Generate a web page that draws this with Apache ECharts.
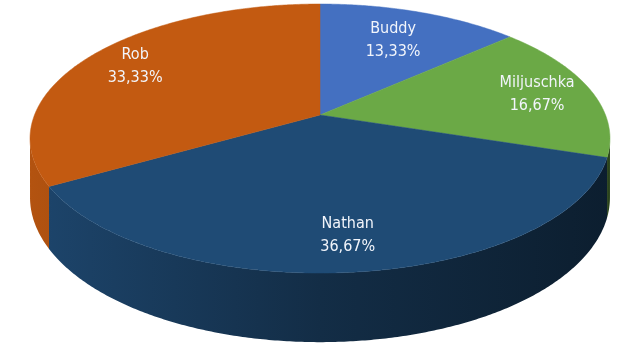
<!DOCTYPE html>
<html>
<head>
<meta charset="utf-8">
<script src="https://cdn.jsdelivr.net/npm/echarts@6/dist/echarts.min.js"></script>
<style>
  html, body { margin: 0; padding: 0; background: #fff; }
  #main { width: 640px; height: 360px; }
</style>
</head>
<body>
<div id="main"></div>
<script>
// data
const names = ['Buddy', 'Miljuschka', 'Nathan', 'Rob'];
const values = [13.33, 16.67, 36.67, 33.33];
const palette = ['#4470c1', '#6ba946', '#1f4b75', '#c35a11'];

// fake 3d view (tilted disc with a bit of perspective)
const cx = 320, cy = 115, rx = 285.5, ry = 130.4, persp = 0.175, depth = 57;
const labelR = 0.8, labelMinY = 40;

const total = values.reduce((a, b) => a + b, 0);
const starts = [];
values.reduce((acc, v) => { starts.push(360 * acc / total); return acc + v; }, 0);

function proj(deg, r, drop) {
  const t = deg * Math.PI / 180;
  const u = r * Math.sin(t), v = r * Math.cos(t);
  const s = 1 / (1 + persp * v);
  return [cx + rx * u * s, cy - ry * v * s + (drop || 0) * s];
}

function shade(hex, f) {
  const c = echarts.color.parse(hex);
  return 'rgb(' + [0, 1, 2].map(k => Math.round(c[k] * f)).join(',') + ')';
}

// visible part of the outer wall
const visL = Math.acos(-persp) * 180 / Math.PI;
const visR = 360 - visL;

function arcPts(a0, a1, r, drop) {
  const pts = [];
  for (let a = a0; a < a1; a += 0.5) pts.push(proj(a, r, drop));
  pts.push(proj(a1, r, drop));
  return pts;
}

// pull label inwards so it doesn't hit the back rim
function labelPos(mid) {
  let r = labelR, p = proj(mid, r);
  while (p[1] < labelMinY && r > 0.2) { r -= 0.01; p = proj(mid, r); }
  return p;
}

const myChart = echarts.init(document.getElementById('main'));
const seriesData = values.map((v, i) => ({ name: names[i], value: [i, v] }));

myChart.setOption({
  animation: false,
  series: [
    { // side walls
      type: 'custom',
      coordinateSystem: 'none',
      silent: true,
      z: 1,
      data: seriesData,
      renderItem: function (params, api) {
        const i = params.dataIndex;
        const a0 = starts[i], a1 = a0 + 360 * api.value(1) / total;
        const b0 = Math.max(a0, visL), b1 = Math.min(a1, visR);
        if (b0 >= b1) return null;
        const top = arcPts(b0, b1, 1, 0);
        const bot = arcPts(b0, b1, 1, depth).reverse();
        const col = palette[i];
        return {
          type: 'polygon',
          shape: { points: top.concat(bot) },
          style: {
            fill: new echarts.graphic.LinearGradient(30, 0, 610, 0, [
              { offset: 0, color: shade(col, 0.92) },
              { offset: 0.5, color: shade(col, 0.6) },
              { offset: 1, color: shade(col, 0.4) }
            ], true),
            stroke: null
          }
        };
      }
    },
    { // top faces + labels
      type: 'custom',
      coordinateSystem: 'none',
      silent: true,
      z: 2,
      data: seriesData,
      renderItem: function (params, api) {
        const i = params.dataIndex;
        const v = api.value(1);
        const a0 = starts[i], a1 = a0 + 360 * v / total;
        const pts = [proj(0, 0)].concat(arcPts(a0, a1, 1, 0));
        const lp = labelPos((a0 + a1) / 2);
        return {
          type: 'group',
          children: [
            {
              type: 'polygon',
              shape: { points: pts },
              style: { fill: palette[i], stroke: palette[i], lineWidth: 0.5 }
            },
            {
              type: 'text',
              x: lp[0], y: lp[1],
              z2: 10,
              style: {
                text: names[i] + '\n' + v.toFixed(2).replace('.', ',') + '%',
                fill: '#f2f5fb',
                font: '16px "DejaVu Sans Condensed", "Liberation Sans Narrow", sans-serif',
                lineHeight: 23,
                align: 'center',
                verticalAlign: 'middle'
              }
            }
          ]
        };
      }
    }
  ]
});
</script>
</body>
</html>
